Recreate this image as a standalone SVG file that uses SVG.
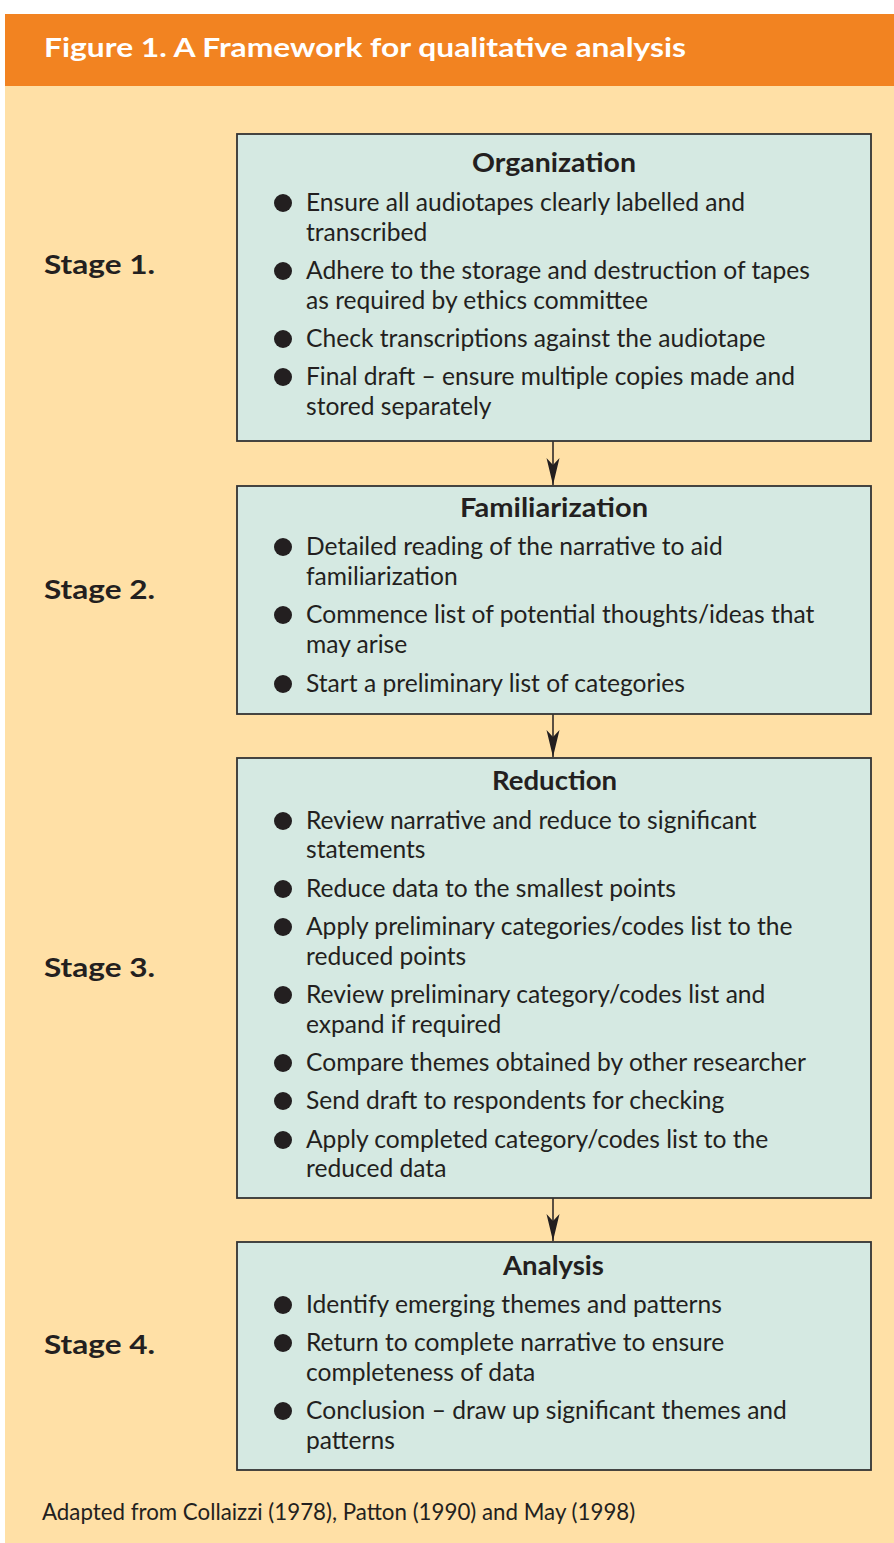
<svg xmlns="http://www.w3.org/2000/svg" width="894" height="1543" viewBox="0 0 894 1543">
<defs>
<style>
.t{font-family:Lato,"Liberation Sans",sans-serif;font-size:24.6px;fill:#231f20}
.h{font-family:Lato,"Liberation Sans",sans-serif;font-size:26px;font-weight:bold;fill:#231f20}
.st{font-family:Lato,"Liberation Sans",sans-serif;font-size:26px;font-weight:bold;fill:#231f20}
.box{fill:#d5e9e2;stroke:#333;stroke-width:1.8}
.b{fill:#231f20}
</style>
<marker id="ah" markerWidth="28" markerHeight="14" refX="27" refY="7" orient="auto" markerUnits="userSpaceOnUse" viewBox="0 0 28 14">
<path d="M0,0.5 L27,7 L0,13.5 L7,7 Z" fill="#231f20"/>
</marker>
</defs>
<rect x="0" y="0" width="894" height="1543" fill="#fff"/>
<rect x="5" y="86" width="889" height="1457" fill="#ffe0a6"/>
<rect x="5" y="14" width="889" height="72" fill="#f28321"/>
<text x="44" y="57" font-family="Lato,'Liberation Sans',sans-serif" font-size="27" font-weight="bold" fill="#fff" textLength="642" lengthAdjust="spacingAndGlyphs">Figure 1. A Framework for qualitative analysis</text>

<g id="connectors" stroke="#231f20" stroke-width="1.5">
<line x1="553" y1="441" x2="553" y2="485" marker-end="url(#ah)"/>
<line x1="553" y1="714" x2="553" y2="757" marker-end="url(#ah)"/>
<line x1="553" y1="1198" x2="553" y2="1241" marker-end="url(#ah)"/>
</g>

<g id="stage1">
<text class="st" x="44" y="274" textLength="111" lengthAdjust="spacingAndGlyphs">Stage 1.</text>
<rect class="box" x="237" y="134" width="634" height="307"/>
<text class="h" x="472" y="172" textLength="164" lengthAdjust="spacingAndGlyphs">Organization</text>
<circle class="b" cx="283" cy="203" r="9"/>
<text class="t" x="306" y="211">Ensure all audiotapes clearly labelled and</text>
<text class="t" x="306" y="241">transcribed</text>
<circle class="b" cx="283" cy="271" r="9"/>
<text class="t" x="306" y="279">Adhere to the storage and destruction of tapes</text>
<text class="t" x="306" y="309">as required by ethics committee</text>
<circle class="b" cx="283" cy="339" r="9"/>
<text class="t" x="306" y="347">Check transcriptions against the audiotape</text>
<circle class="b" cx="283" cy="377" r="9"/>
<text class="t" x="306" y="385">Final draft – ensure multiple copies made and</text>
<text class="t" x="306" y="415">stored separately</text>
</g>

<g id="stage2">
<text class="st" x="44" y="599" textLength="111" lengthAdjust="spacingAndGlyphs">Stage 2.</text>
<rect class="box" x="237" y="486" width="634" height="228"/>
<text class="h" x="460" y="517" textLength="188" lengthAdjust="spacingAndGlyphs">Familiarization</text>
<circle class="b" cx="283" cy="547" r="9"/>
<text class="t" x="306" y="555">Detailed reading of the narrative to aid</text>
<text class="t" x="306" y="585">familiarization</text>
<circle class="b" cx="283" cy="615" r="9"/>
<text class="t" x="306" y="623">Commence list of potential thoughts/ideas that</text>
<text class="t" x="306" y="653">may arise</text>
<circle class="b" cx="283" cy="684" r="9"/>
<text class="t" x="306" y="692">Start a preliminary list of categories</text>
</g>

<g id="stage3">
<text class="st" x="44" y="977" textLength="111" lengthAdjust="spacingAndGlyphs">Stage 3.</text>
<rect class="box" x="237" y="758" width="634" height="440"/>
<text class="h" x="492" y="790" textLength="125" lengthAdjust="spacingAndGlyphs">Reduction</text>
<circle class="b" cx="283" cy="821" r="9"/>
<text class="t" x="306" y="829">Review narrative and reduce to significant</text>
<text class="t" x="306" y="858">statements</text>
<circle class="b" cx="283" cy="889" r="9"/>
<text class="t" x="306" y="897">Reduce data to the smallest points</text>
<circle class="b" cx="283" cy="927" r="9"/>
<text class="t" x="306" y="935">Apply preliminary categories/codes list to the</text>
<text class="t" x="306" y="965">reduced points</text>
<circle class="b" cx="283" cy="995" r="9"/>
<text class="t" x="306" y="1003">Review preliminary category/codes list and</text>
<text class="t" x="306" y="1033">expand if required</text>
<circle class="b" cx="283" cy="1063" r="9"/>
<text class="t" x="306" y="1071">Compare themes obtained by other researcher</text>
<circle class="b" cx="283" cy="1101" r="9"/>
<text class="t" x="306" y="1109">Send draft to respondents for checking</text>
<circle class="b" cx="283" cy="1140" r="9"/>
<text class="t" x="306" y="1148">Apply completed category/codes list to the</text>
<text class="t" x="306" y="1177">reduced data</text>
</g>

<g id="stage4">
<text class="st" x="44" y="1354" textLength="111" lengthAdjust="spacingAndGlyphs">Stage 4.</text>
<rect class="box" x="237" y="1242" width="634" height="228"/>
<text class="h" x="503" y="1275" textLength="101" lengthAdjust="spacingAndGlyphs">Analysis</text>
<circle class="b" cx="283" cy="1305" r="9"/>
<text class="t" x="306" y="1313">Identify emerging themes and patterns</text>
<circle class="b" cx="283" cy="1343" r="9"/>
<text class="t" x="306" y="1351">Return to complete narrative to ensure</text>
<text class="t" x="306" y="1381">completeness of data</text>
<circle class="b" cx="283" cy="1411" r="9"/>
<text class="t" x="306" y="1419">Conclusion – draw up significant themes and</text>
<text class="t" x="306" y="1449">patterns</text>
</g>

<text x="42" y="1520" font-family="Lato,'Liberation Sans',sans-serif" font-size="22.3" fill="#231f20">Adapted from Collaizzi (1978), Patton (1990) and May (1998)</text>
</svg>
